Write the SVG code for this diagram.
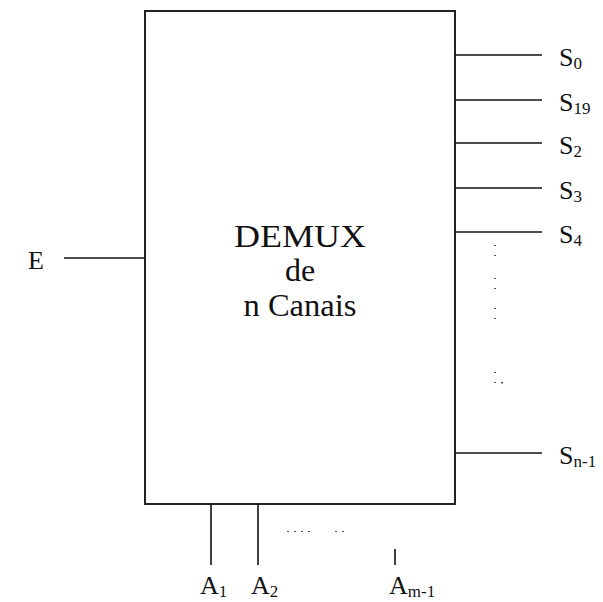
<svg xmlns="http://www.w3.org/2000/svg" width="603" height="602" viewBox="0 0 603 602">
<style>
.ln{stroke:#111;stroke-width:1.6;fill:none}
.t{fill:#111;font-family:'Liberation Serif','Times New Roman',serif}
.lb{font-size:26px}
.sub{font-size:17px}
.big{font-size:32px}
.dot{fill:#555}
</style>
<rect width="603" height="602" fill="#fff"/>
<g id="demux">
<rect x="145" y="11" width="310" height="493" fill="none" stroke="#222" stroke-width="2"/>
<text class="t big" x="300" y="247" text-anchor="middle" textLength="132" lengthAdjust="spacingAndGlyphs">DEMUX</text>
<text class="t big" x="300" y="281" text-anchor="middle">de</text>
<text class="t big" x="300" y="316" text-anchor="middle" textLength="113" lengthAdjust="spacingAndGlyphs">n Canais</text>
</g>
<g id="connectors">
<line class="ln" x1="64" y1="258" x2="145" y2="258"/>
<line class="ln" x1="455" y1="55" x2="542" y2="55"/>
<line class="ln" x1="455" y1="100" x2="542" y2="100"/>
<line class="ln" x1="455" y1="143" x2="542" y2="143"/>
<line class="ln" x1="455" y1="188" x2="542" y2="188"/>
<line class="ln" x1="455" y1="232" x2="542" y2="232"/>
<line class="ln" x1="455" y1="453" x2="542" y2="453"/>
<line class="ln" x1="211" y1="504" x2="211" y2="565"/>
<line class="ln" x1="258" y1="504" x2="258" y2="565"/>
<line class="ln" x1="395" y1="549" x2="395" y2="565"/>
</g>
<g id="dots">
<rect class="dot" x="494" y="245" width="2" height="1"/>
<rect class="dot" x="494" y="255" width="2" height="1"/>
<rect class="dot" x="494" y="278" width="2" height="1"/>
<rect class="dot" x="494" y="288" width="2" height="1"/>
<rect class="dot" x="494" y="308" width="2" height="1"/>
<rect class="dot" x="494" y="318" width="2" height="1"/>
<rect class="dot" x="494" y="372" width="2" height="1"/>
<rect class="dot" x="494" y="382" width="2" height="1"/>
<rect class="dot" x="501" y="382" width="2" height="1.5"/>
<rect class="dot" x="287" y="531" width="2" height="1"/>
<rect class="dot" x="294" y="531" width="2" height="1"/>
<rect class="dot" x="301" y="531" width="2" height="1"/>
<rect class="dot" x="308" y="531" width="2" height="1"/>
<rect class="dot" x="335" y="531" width="2" height="1"/>
<rect class="dot" x="342" y="531" width="2" height="1"/>
</g>
<g id="E"><text class="t lb" x="28" y="269">E</text></g>
<g id="S0"><text class="t lb" x="559" y="66">S<tspan class="sub" dy="3">0</tspan></text></g>
<g id="S19"><text class="t lb" x="559" y="111">S<tspan class="sub" dy="3">19</tspan></text></g>
<g id="S2"><text class="t lb" x="559" y="154">S<tspan class="sub" dy="3">2</tspan></text></g>
<g id="S3"><text class="t lb" x="559" y="199">S<tspan class="sub" dy="3">3</tspan></text></g>
<g id="S4"><text class="t lb" x="559" y="243">S<tspan class="sub" dy="3">4</tspan></text></g>
<g id="Sn-1"><text class="t lb" x="559" y="464">S<tspan class="sub" dy="3">n-1</tspan></text></g>
<g id="A1"><text class="t lb" x="200" y="594">A<tspan class="sub" dy="3">1</tspan></text></g>
<g id="A2"><text class="t lb" x="251" y="594">A<tspan class="sub" dy="3">2</tspan></text></g>
<g id="Am-1"><text class="t lb" x="389" y="594">A<tspan class="sub" dy="3">m-1</tspan></text></g>
</svg>
